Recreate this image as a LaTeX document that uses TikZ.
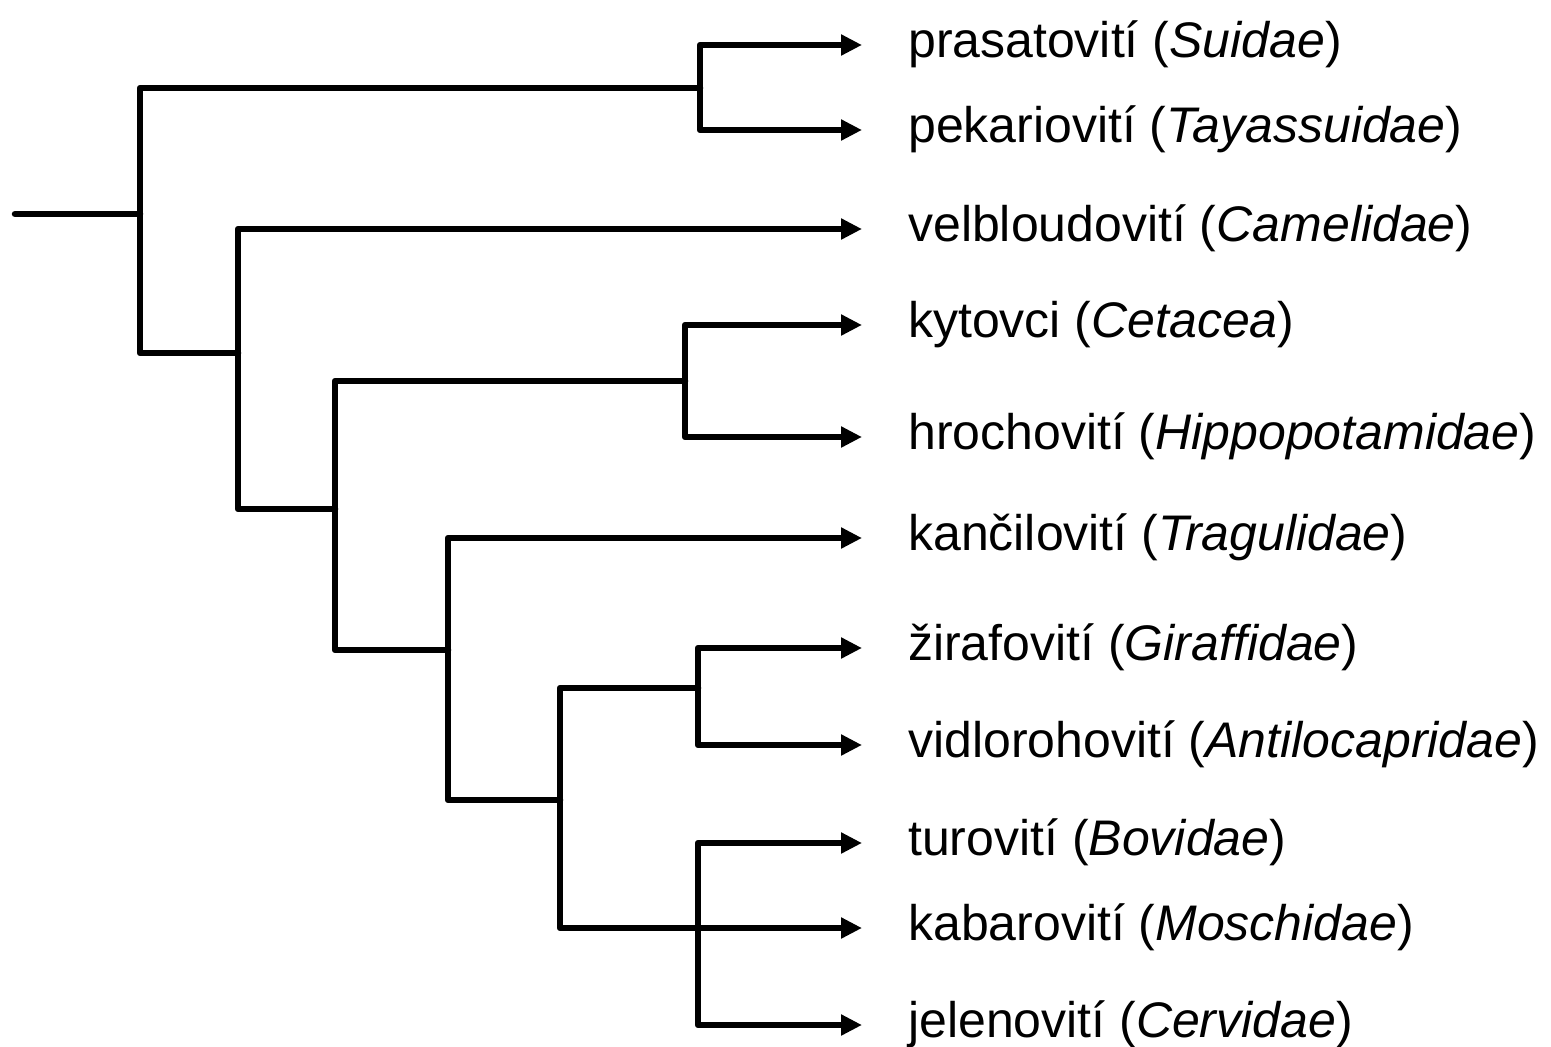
\documentclass[tikz,border=0pt]{standalone}
\usepackage{fontspec}
\setmainfont{Liberation Sans}
\usetikzlibrary{arrows.meta}
\begin{document}
\begin{tikzpicture}[x=1pt,y=-1pt,
  br/.style={line width=6.5, line join=round, line cap=round},
  ar/.style={line width=6.5, line join=round, -{Triangle[length=21,width=20]}},
  lab/.style={anchor=base west, inner sep=0, font=\fontsize{50}{54}\selectfont}]
\useasboundingbox (0,0) rectangle (1551,1047);
% internal points
\coordinate (start) at (15,214);
\coordinate (r) at (140,214);
\coordinate (n1) at (700,88);
\coordinate (n2) at (238,353);
\coordinate (n3) at (335,509);
\coordinate (n4) at (685,381);
\coordinate (n5) at (448,650);
\coordinate (n6) at (560,800);
\coordinate (n7) at (698,688);
\coordinate (n8) at (698,928);
% tips
\coordinate (t1) at (862,45);
\coordinate (t2) at (862,130);
\coordinate (t3) at (862,229);
\coordinate (t4) at (862,325);
\coordinate (t5) at (862,437);
\coordinate (t6) at (862,538);
\coordinate (t7) at (862,648);
\coordinate (t8) at (862,745);
\coordinate (t9) at (862,843);
\coordinate (t10) at (862,928);
\coordinate (t11) at (862,1025);
% labels
\node[lab] (l1) at ([shift={(46,12)}]t1) {prasatovití (\textit{Suidae})};
\node[lab] (l2) at ([shift={(46,12)}]t2) {pekariovití (\textit{Tayassuidae})};
\node[lab] (l3) at ([shift={(46,12)}]t3) {velbloudovití (\textit{Camelidae})};
\node[lab] (l4) at ([shift={(46,12)}]t4) {kytovci (\textit{Cetacea})};
\node[lab] (l5) at ([shift={(46,12)}]t5) {hrochovití (\textit{Hippopotamidae})};
\node[lab] (l6) at ([shift={(46,12)}]t6) {kančilovití (\textit{Tragulidae})};
\node[lab] (l7) at ([shift={(46,12)}]t7) {žirafovití (\textit{Giraffidae})};
\node[lab] (l8) at ([shift={(46,12)}]t8) {vidlorohovití (\textit{Antilocapridae})};
\node[lab] (l9) at ([shift={(46,12)}]t9) {turovití (\textit{Bovidae})};
\node[lab] (l10) at ([shift={(46,12)}]t10) {kabarovití (\textit{Moschidae})};
\node[lab] (l11) at ([shift={(46,12)}]t11) {jelenovití (\textit{Cervidae})};
% tree
\draw[br] (start) -- (r);
\draw[br] (r) |- (n1);
\draw[br] (r) |- (n2);
\draw[ar] (n1) |- (t1);
\draw[ar] (n1) |- (t2);
\draw[ar] (n2) |- (t3);
\draw[br] (n2) |- (n3);
\draw[br] (n3) |- (n4);
\draw[br] (n3) |- (n5);
\draw[ar] (n4) |- (t4);
\draw[ar] (n4) |- (t5);
\draw[ar] (n5) |- (t6);
\draw[br] (n5) |- (n6);
\draw[br] (n6) |- (n7);
\draw[br] (n6) |- (n8);
\draw[ar] (n7) |- (t7);
\draw[ar] (n7) |- (t8);
\draw[ar] (n8) |- (t9);
\draw[ar] (n8) -- (t10);
\draw[ar] (n8) |- (t11);
\end{tikzpicture}
\end{document}
